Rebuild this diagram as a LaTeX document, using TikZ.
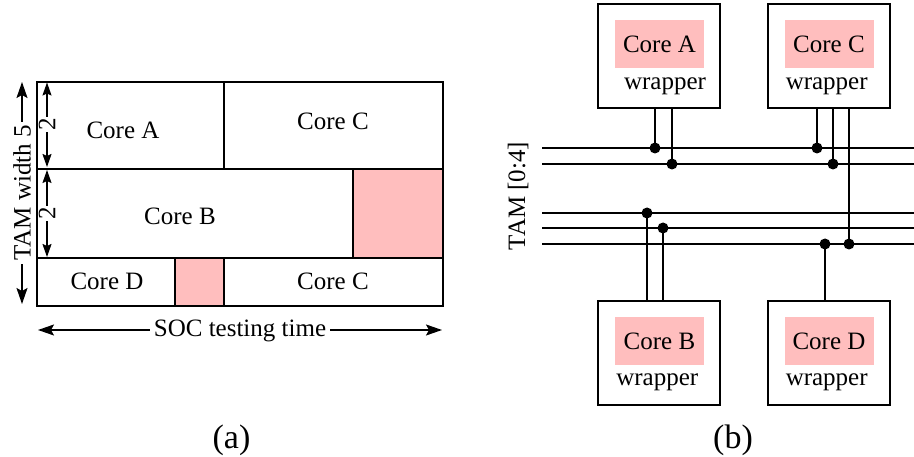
\documentclass[tikz,border=0pt]{standalone}
\usepackage{fontspec}
\setmainfont{Liberation Serif}
\usetikzlibrary{arrows.meta}
\definecolor{pinkfill}{RGB}{255,190,190}
\begin{document}
\begin{tikzpicture}[x=1pt,y=-1pt, line width=1.5pt,
  lbl/.style={font=\fontsize{25}{30}\selectfont, inner sep=0pt},
  captext/.style={font=\fontsize{34}{40}\selectfont, inner sep=0pt},
  dimarrow/.style={{Stealth[length=16pt,width=11pt,inset=3pt]}-{Stealth[length=16pt,width=11pt,inset=3pt]}},
  smallarrow/.style={{Stealth[length=13pt,width=9pt,inset=2pt]}-{Stealth[length=13pt,width=9pt,inset=2pt]}},
  wbox/.style={draw, minimum width=122pt, minimum height=104pt, inner sep=0pt},
  pinkbox/.style={lbl, fill=pinkfill, minimum width=89pt, minimum height=48pt},
  dot/.style={fill=black},
  bus/.style={line width=1.5pt}]
\useasboundingbox (0,0) rectangle (914,457);

% ---------- (a) ----------
\fill[pinkfill] (353,169) rectangle (443,258);
\fill[pinkfill] (175,258) rectangle (224,306);
\draw (37,82) rectangle (443,306);
\draw (37,169) -- (443,169);
\draw (37,258) -- (443,258);
\draw (224,82) -- (224,169);
\draw (353,169) -- (353,258);
\draw (175,258) -- (175,306);
\draw (224,258) -- (224,306);

\node[lbl] (ta) at (123,130) {Core A};
\node[lbl] (tc1) at (333,121.7) {Core C};
\node[lbl] (tb) at (180,216.7) {Core B};
\node[lbl] (td) at (107,281.7) {Core D};
\node[lbl] (tc2) at (333,281.7) {Core C};

\coordinate (tamT) at (22,82);
\coordinate (tamB) at (22,304);
\draw[dimarrow] (tamT) -- node[lbl, fill=white, rotate=90, inner xsep=3pt] (tamw) {TAM width 5} (tamB);

\coordinate (twoT1) at (47,82.5);
\coordinate (twoB1) at (47,167);
\draw[smallarrow] (twoT1) -- node[lbl, fill=white, rotate=90, inner sep=1pt] (two1) {2} (twoB1);
\coordinate (twoT2) at (47,170);
\coordinate (twoB2) at (47,257);
\draw[smallarrow] (twoT2) -- node[lbl, fill=white, rotate=90, inner sep=1pt] (two2) {2} (twoB2);

\coordinate (socL) at (38,330);
\coordinate (socR) at (442,330);
\draw[dimarrow] (socL) -- (socR);
\node[lbl, fill=white, inner xsep=4pt, inner ysep=1pt] (soc) at (240,331) {SOC testing time};

\node[captext] (capa) at (231.5,440) {(a)};

% ---------- (b) ----------
\node[lbl, rotate=90] (tam) at (518,196) {TAM [0:4]};

\foreach \n/\y in {1/148, 2/164, 3/213, 4/228, 5/244}{
  \coordinate (bl\n) at (542,\y);
  \coordinate (br\n) at (914,\y);
  \draw[bus] (bl\n) -- (br\n);
}

\node[wbox] (wa) at (659,56) {};
\node[wbox] (wc) at (829,56) {};
\node[wbox] (wb) at (659,353) {};
\node[wbox] (wd) at (829,353) {};

\node[pinkbox] (ca) at (659.5,44.5) {Core A};
\node[pinkbox] (cc) at (829,44.5) {Core C};
\node[pinkbox] (cb) at (659.5,341) {Core B};
\node[pinkbox] (cd) at (829,341) {Core D};

\node[lbl] (wra) at (665,86) {wrapper};
\node[lbl] (wrc) at (826.7,86) {wrapper};
\node[lbl] (wrb) at (657.3,382.7) {wrapper};
\node[lbl] (wrd) at (826.7,382.7) {wrapper};

% connection points
\coordinate (dA1) at (655,148);
\coordinate (dA2) at (672,164);
\coordinate (dC1) at (817,148);
\coordinate (dC2) at (833,164);
\coordinate (dC3) at (849,244);
\coordinate (dB1) at (647,213);
\coordinate (dB2) at (663,228);
\coordinate (dD1) at (825,244);

\foreach \d in {dA1,dA2}{ \draw (wa.south -| \d) -- (\d); \fill[dot] (\d) circle[radius=5.5pt]; }
\foreach \d in {dC1,dC2,dC3}{ \draw (wc.south -| \d) -- (\d); \fill[dot] (\d) circle[radius=5.5pt]; }
\foreach \d in {dB1,dB2}{ \draw (wb.north -| \d) -- (\d); \fill[dot] (\d) circle[radius=5.5pt]; }
\foreach \d in {dD1}{ \draw (wd.north -| \d) -- (\d); \fill[dot] (\d) circle[radius=5.5pt]; }

\node[captext] (capb) at (733,440) {(b)};
\end{tikzpicture}
\end{document}
